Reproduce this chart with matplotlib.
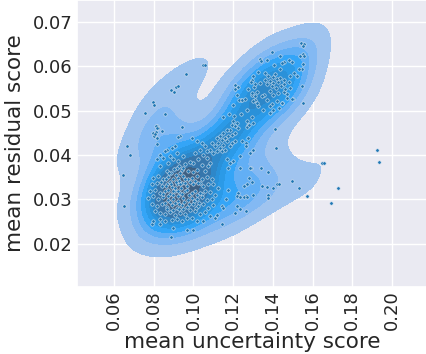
import matplotlib
matplotlib.use("Agg")
import matplotlib.pyplot as plt
import seaborn as sns
import numpy as np

# (mean uncertainty score, mean residual score)
points = [
    # sparse / outlying points
    (0.1047,0.0602),(0.1060,0.0603),(0.0961,0.0582),
    (0.0887,0.0547),(0.0911,0.0553),(0.0921,0.0556),(0.0903,0.0543),
    (0.0797,0.0519),(0.0801,0.0513),(0.0755,0.0495),(0.0855,0.0493),
    (0.0815,0.0465),(0.0821,0.0460),(0.0798,0.0450),(0.0810,0.0453),(0.0802,0.0442),(0.0840,0.0454),
    (0.0941,0.0463),(0.0667,0.0421),(0.0679,0.0400),(0.0647,0.0356),(0.0650,0.0285),
    (0.0790,0.0245),(0.0889,0.0215),
    (0.1648,0.0382),(0.1655,0.0383),(0.1923,0.0411),(0.1932,0.0385),
    (0.1730,0.0326),(0.1692,0.0291),(0.1570,0.0308),(0.1534,0.0325),(0.1495,0.0341),
    (0.1418,0.0416),(0.1413,0.0459),
    (0.1374,0.0309),(0.1376,0.0303),(0.1420,0.0335),(0.1433,0.0334),(0.1400,0.0326),
    (0.1369,0.0328),(0.1344,0.0330),(0.1377,0.0361),(0.1340,0.0371),(0.1289,0.0371),
    (0.1282,0.0349),(0.1272,0.0335),(0.1294,0.0339),(0.1256,0.0330),(0.1264,0.0307),
    (0.1256,0.0306),(0.1226,0.0315),(0.1221,0.0307),(0.1235,0.0305),(0.1270,0.0305),
    (0.1221,0.0285),(0.1235,0.0279),(0.1263,0.0274),(0.1210,0.0270),
    (0.1302,0.0412),(0.1263,0.0427),(0.1277,0.0468),(0.1272,0.0464),(0.1268,0.0502),
    (0.1238,0.0525),(0.1228,0.0525),(0.1210,0.0558),(0.1227,0.0553),(0.1207,0.0549),
    (0.1336,0.0616),(0.1340,0.0611),(0.1369,0.0615),(0.1396,0.0631),(0.1436,0.0622),
    (0.1456,0.0610),(0.1480,0.0615),(0.1495,0.0610),(0.1537,0.0624),
    (0.1542,0.0652),(0.1559,0.0650),(0.1554,0.0646),(0.1554,0.0627),(0.1559,0.0623),
    (0.1548,0.0594),(0.1523,0.0577),(0.1545,0.0555),(0.1554,0.0517),
    (0.1500,0.0526),(0.1473,0.0537),
    # upper cluster
    (0.1406,0.0603),(0.1445,0.0608),(0.1437,0.0593),(0.1487,0.0579),(0.1504,0.0585),
    (0.1532,0.0593),(0.1554,0.0606),
    (0.1361,0.0585),(0.1378,0.0579),(0.1400,0.0576),(0.1412,0.0582),(0.1420,0.0572),
    (0.1437,0.0574),(0.1386,0.0566),(0.1403,0.0563),(0.1428,0.0564),(0.1454,0.0569),
    (0.1370,0.0559),(0.1395,0.0555),(0.1417,0.0551),(0.1440,0.0555),(0.1457,0.0559),
    (0.1479,0.0564),(0.1487,0.0551),(0.1386,0.0544),(0.1403,0.0536),(0.1428,0.0540),
    (0.1454,0.0542),(0.1470,0.0529),(0.1420,0.0521),(0.1445,0.0518),(0.1496,0.0527),
    (0.1395,0.0514),(0.1353,0.0536),(0.1462,0.0548),
    (0.1294,0.0570),(0.1305,0.0553),(0.1319,0.0543),(0.1297,0.0536),(0.1310,0.0525),
    (0.1327,0.0510),(0.1352,0.0502),(0.1369,0.0525),(0.1386,0.0510),(0.1347,0.0532),
    (0.1336,0.0562),(0.1361,0.0570),(0.1302,0.0577),(0.1324,0.0588),
    (0.1386,0.0495),(0.1403,0.0502),(0.1433,0.0506),(0.1445,0.0517),
    (0.1289,0.0564),(0.1310,0.0559),(0.1277,0.0548),(0.1294,0.0540),(0.1310,0.0533),
    (0.1218,0.0536),(0.1243,0.0524),(0.1260,0.0527),(0.1302,0.0521),(0.1201,0.0512),
    (0.1319,0.0518),
    # ridge
    (0.1148,0.0486),(0.1181,0.0493),(0.1206,0.0489),(0.1238,0.0493),
    (0.1294,0.0486),(0.1302,0.0472),(0.1282,0.0468),(0.1268,0.0476),
    (0.1201,0.0476),(0.1218,0.0472),(0.1193,0.0468),(0.1210,0.0465),(0.1227,0.0461),
    (0.1184,0.0457),(0.1168,0.0457),(0.1151,0.0450),(0.1134,0.0444),(0.1117,0.0438),
    (0.1143,0.0435),(0.1159,0.0438),(0.1176,0.0442),(0.1193,0.0446),(0.1210,0.0450),
    (0.1171,0.0431),(0.1193,0.0427),(0.1210,0.0431),(0.1185,0.0420),(0.1151,0.0423),
    (0.1126,0.0427),(0.1109,0.0420),(0.1134,0.0416),(0.1092,0.0427),(0.1084,0.0412),
    (0.1101,0.0405),(0.1117,0.0408),(0.1143,0.0408),(0.1159,0.0412),
    (0.1243,0.0431),(0.1277,0.0438),(0.1265,0.0420),(0.1285,0.0405),(0.1235,0.0397),
    (0.1201,0.0386),(0.1185,0.0382),(0.1168,0.0390),(0.1176,0.0371),(0.1235,0.0371),
    (0.1285,0.0371),
    (0.0991,0.0438),(0.1017,0.0431),(0.1042,0.0427),(0.1059,0.0420),(0.1033,0.0412),
    (0.1008,0.0405),(0.1050,0.0401),(0.1067,0.0393),(0.1025,0.0390),(0.1000,0.0382),
    (0.1042,0.0378),(0.1075,0.0375),(0.1017,0.0367),(0.1059,0.0363),(0.1084,0.0382),
    (0.1067,0.0408),
    # left of core
    (0.0811,0.0465),(0.0818,0.0461),(0.0806,0.0448),(0.0818,0.0438),
    (0.0932,0.0444),(0.0924,0.0441),(0.0815,0.0425),(0.0865,0.0412),(0.0857,0.0408),
    (0.0890,0.0416),(0.0907,0.0420),(0.0915,0.0405),(0.0882,0.0397),(0.0899,0.0390),
    (0.0848,0.0393),(0.0873,0.0382),(0.0924,0.0386),(0.0949,0.0397),(0.0832,0.0375),
    (0.0915,0.0371),(0.0941,0.0367),(0.0865,0.0363),(0.0815,0.0390),(0.0832,0.0401),
    # core
    (0.0798,0.0349),(0.0823,0.0352),(0.0848,0.0347),(0.0873,0.0350),(0.0899,0.0345),
    (0.0924,0.0349),(0.0949,0.0352),(0.0974,0.0347),
    (0.0790,0.0334),(0.0815,0.0337),(0.0840,0.0330),(0.0865,0.0335),(0.0890,0.0328),
    (0.0915,0.0334),(0.0941,0.0337),(0.0966,0.0330),
    (0.0781,0.0319),(0.0806,0.0322),(0.0832,0.0315),(0.0857,0.0319),(0.0882,0.0313),
    (0.0907,0.0320),(0.0932,0.0315),(0.0957,0.0319),(0.0979,0.0311),
    (0.0773,0.0304),(0.0798,0.0307),(0.0823,0.0300),(0.0848,0.0305),(0.0873,0.0298),
    (0.0899,0.0302),(0.0924,0.0296),(0.0949,0.0304),(0.0974,0.0298),
    (0.0790,0.0289),(0.0815,0.0285),(0.0840,0.0290),(0.0865,0.0283),(0.0890,0.0287),
    (0.0915,0.0281),(0.0941,0.0287),(0.0966,0.0283),
    (0.0806,0.0274),(0.0832,0.0270),(0.0857,0.0268),(0.0882,0.0272),(0.0907,0.0266),
    (0.0932,0.0270),(0.0957,0.0268),
    (0.0832,0.0255),(0.0857,0.0251),(0.0890,0.0253),(0.0915,0.0257),(0.0941,0.0251),
    (0.0966,0.0259),(0.0798,0.0251),(0.0832,0.0245),
    (0.0899,0.0236),(0.0966,0.0232),
    (0.0880,0.0340),(0.0905,0.0325),(0.0930,0.0342),(0.0895,0.0310),(0.0920,0.0320),
    (0.0870,0.0322),(0.0940,0.0325),(0.0910,0.0355),(0.0885,0.0360),(0.0935,0.0360),
    (0.0960,0.0345),(0.0860,0.0345),
    (0.0835,0.0340),(0.0860,0.0330),(0.0885,0.0335),(0.0910,0.0340),(0.0935,0.0335),
    (0.0960,0.0338),(0.0985,0.0340),(0.1010,0.0342),(0.1035,0.0338),
    (0.0845,0.0312),(0.0870,0.0308),(0.0895,0.0318),(0.0920,0.0308),(0.0945,0.0312),
    (0.0970,0.0322),(0.0995,0.0315),(0.1020,0.0310),(0.1045,0.0312),
    (0.0855,0.0292),(0.0880,0.0295),(0.0905,0.0292),(0.0930,0.0290),(0.0955,0.0295),
    (0.0980,0.0290),(0.1005,0.0296),(0.1030,0.0292),
    (0.0875,0.0360),(0.0900,0.0368),(0.0925,0.0375),(0.0950,0.0370),(0.0975,0.0365),
    (0.1000,0.0362),(0.0960,0.0380),(0.0985,0.0385),
    (0.0865,0.0278),(0.0895,0.0276),(0.0925,0.0278),(0.0950,0.0278),(0.0985,0.0276),
    (0.1015,0.0280),
    (0.0991,0.0349),(0.1017,0.0352),(0.1042,0.0345),(0.1067,0.0350),(0.1092,0.0347),
    (0.1000,0.0334),(0.1025,0.0337),(0.1050,0.0330),(0.1075,0.0334),(0.1101,0.0335),
    (0.1126,0.0326),(0.1008,0.0319),(0.1033,0.0315),(0.1059,0.0320),(0.1084,0.0317),
    (0.1109,0.0311),(0.0991,0.0304),(0.1017,0.0300),(0.1042,0.0305),(0.1067,0.0298),
    (0.1092,0.0302),(0.1000,0.0289),(0.1025,0.0285),(0.1050,0.0290),(0.1075,0.0281),
    (0.1101,0.0287),(0.1008,0.0274),(0.1033,0.0268),(0.1059,0.0272),(0.1084,0.0262),
    (0.1109,0.0259),(0.0991,0.0259),(0.1017,0.0251),(0.1050,0.0251),(0.1000,0.0232),
    (0.1143,0.0285),(0.1151,0.0281),(0.1117,0.0266),(0.1143,0.0244),
    (0.1176,0.0322),(0.1164,0.0302),(0.1302,0.0311),
]
uncertainty = [p[0] for p in points]
residual = [p[1] for p in points]

x_ticks = [0.06, 0.08, 0.10, 0.12, 0.14, 0.16, 0.18, 0.20]
y_ticks = [0.02, 0.03, 0.04, 0.05, 0.06, 0.07]

sns.set_theme(style="darkgrid")
plt.rcParams['font.family'] = ['DejaVu Sans']

fig = plt.figure(figsize=(4.27, 3.54), dpi=100)
ax = fig.add_axes([77/427, 1 - 287/354, 350/427, 287/354])

sns.kdeplot(x=uncertainty, y=residual, fill=True, color='#1f77b4', ax=ax, bw_adjust=1.05)
ax.scatter(uncertainty, residual, s=6, color='#1f77b4', edgecolor='#dfe8f2', linewidth=0.4, zorder=3)

ax.set_xlim(0.0414, 0.2176)
ax.set_ylim(0.0103, 0.0749)
ax.set_xticks(x_ticks)
ax.set_xticklabels([f"{t:.2f}" for t in x_ticks], rotation=90)
ax.set_yticks(y_ticks)
ax.set_yticklabels([f"{t:.2f}" for t in y_ticks])
ax.tick_params(axis='both', labelsize=13, colors='#262626', length=0)
ax.tick_params(axis='x', pad=2.5)
ax.tick_params(axis='y', pad=3.5)
ax.set_xlabel("mean uncertainty score", fontsize=15.5, color='#262626', labelpad=1)
ax.set_ylabel("mean residual score", fontsize=15.5, color='#262626', labelpad=5)

fig.savefig("out.png", dpi=100)
